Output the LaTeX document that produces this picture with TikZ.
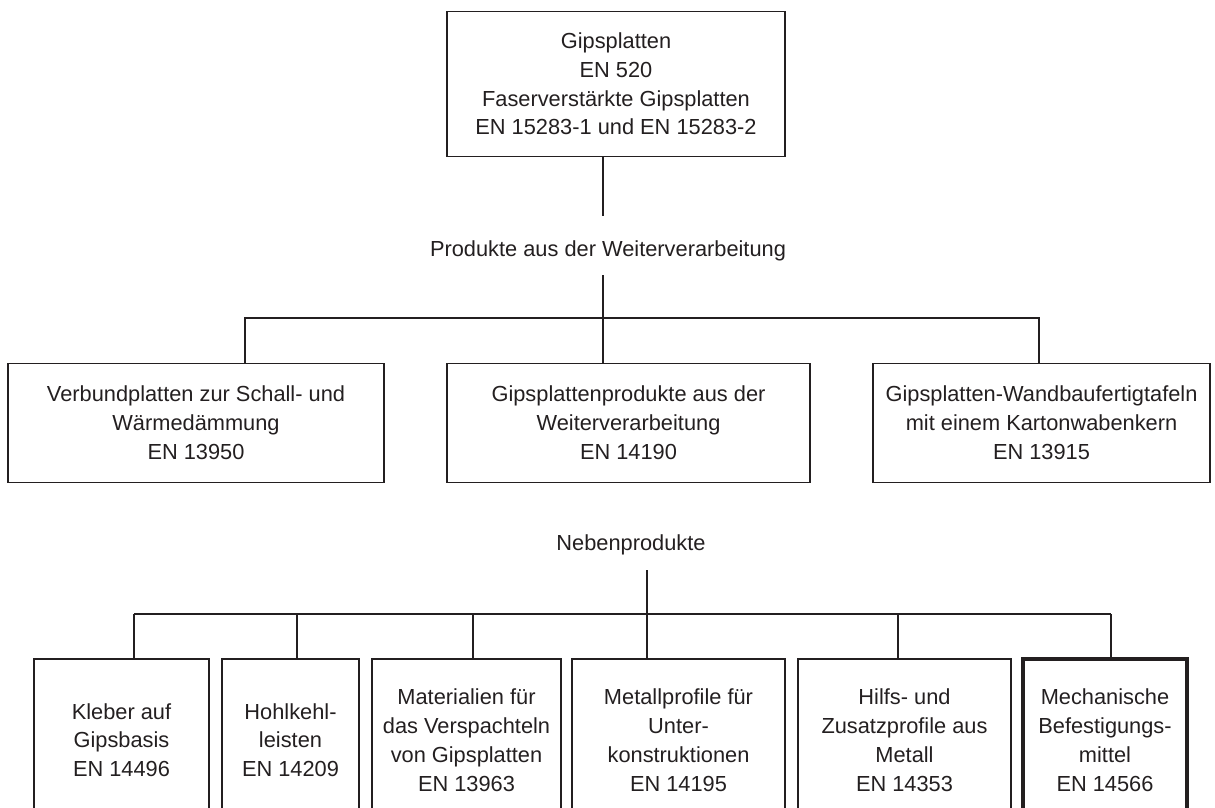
\documentclass[tikz,border=0pt]{standalone}
\usepackage{fontspec}
\setmainfont{Liberation Sans}
\definecolor{ink}{HTML}{231F20}
\begin{document}
\begin{tikzpicture}[x=1pt,y=-1pt, color=ink, line width=1.8pt,
  box/.style={draw, rectangle, align=center, inner sep=0pt,
    font=\fontsize{21.8}{28.8}\selectfont},
  lbl/.style={font=\fontsize{21.8}{28.8}\selectfont}]
\useasboundingbox (0,0) rectangle (1215,808);
\clip (0,0) rectangle (1215,808);
% Gipsplatten
\node[box, minimum width=338, minimum height=145] (gips) at (616,84) {Gipsplatten\\EN 520\\Faserverstärkte Gipsplatten\\EN 15283-1 und EN 15283-2};
\node[lbl] (weiter) at (608,251) {Produkte aus der Weiterverarbeitung};
\node[box, minimum width=376, minimum height=119] (vb) at (196,423) {Verbundplatten zur Schall- und\\Wärmedämmung\\EN 13950};
\node[box, minimum width=363, minimum height=119] (gp) at (628.5,423) {Gipsplattenprodukte aus der\\Weiterverarbeitung\\EN 14190};
\node[box, minimum width=337, minimum height=119] (wt) at (1041.5,423) {Gipsplatten-Wandbaufertigtafeln\\mit einem Kartonwabenkern\\EN 13915};
\coordinate (j1) at (603,318);
\draw (gips.south -| j1) -- (603,216);
\draw (603,275) -- (j1);
\draw (vb.north -| 245,0) -- (245,318) -- (1039,318) -- (wt.north -| 1039,0);
\draw (j1) -- (gp.north -| j1);
% Nebenprodukte
\node[lbl] (neben) at (631,545) {Nebenprodukte};
\node[box, minimum width=175, minimum height=162] (kb) at (121.5,740) {Kleber auf\\Gipsbasis\\EN 14496};
\node[box, minimum width=137, minimum height=162] (hk) at (290.5,740) {Hohlkehl-\\leisten\\EN 14209};
\node[box, minimum width=189, minimum height=162] (mv) at (466.5,740) {Materialien für\\das Verspachteln\\von Gipsplatten\\EN 13963};
\node[box, minimum width=213, minimum height=162] (mp) at (678.5,740) {Metallprofile für\\Unter-\\konstruktionen\\EN 14195};
\node[box, minimum width=213, minimum height=162] (hz) at (904.5,740) {Hilfs- und\\Zusatzprofile aus\\Metall\\EN 14353};
\node[box, line width=4pt, minimum width=164, minimum height=162] (mb) at (1105,740) {Mechanische\\Befestigungs-\\mittel\\EN 14566};
\coordinate (j2) at (647,614);
\draw (647,570) -- (j2);
\draw (134,614) -- (1111,614);
\foreach \n/\x in {kb/134, hk/297, mv/473, mp/647, hz/898, mb/1111}
  \draw (\x,614) -- (\n.north -| \x,0);
\end{tikzpicture}
\end{document}
